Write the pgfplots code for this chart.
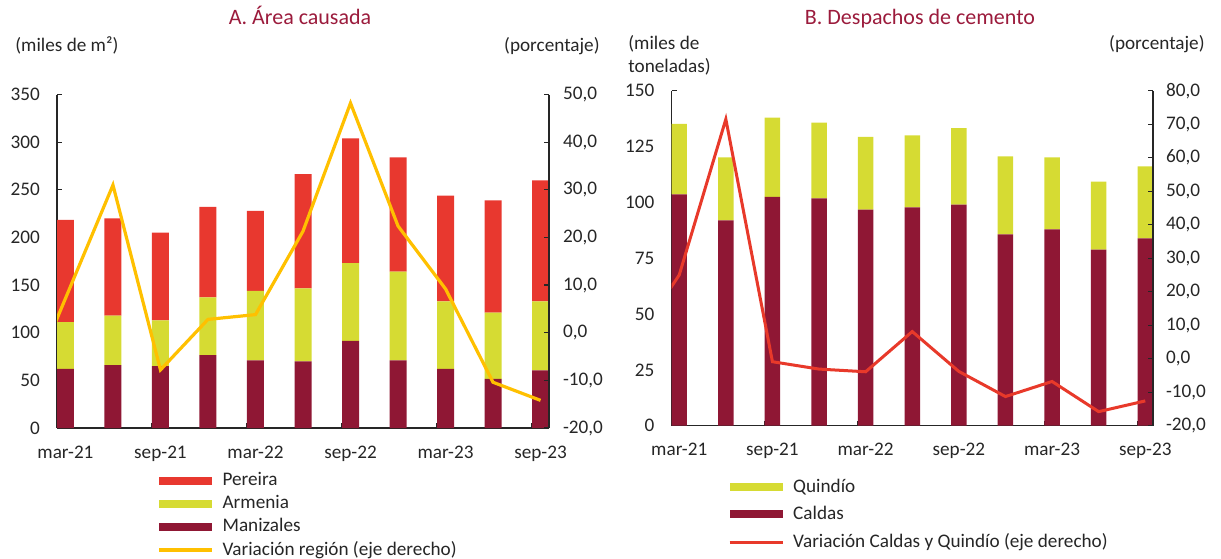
\documentclass[border=0pt]{standalone}
\usepackage{fontspec}
\setmainfont{Carlito}
\usepackage{pgfplots}
\pgfplotsset{compat=1.18}

\definecolor{pereira}{HTML}{E8382F}
\definecolor{armenia}{HTML}{D6DB33}
\definecolor{manizales}{HTML}{8F1734}
\definecolor{lineA}{HTML}{FFC000}
\definecolor{lineB}{HTML}{E8392A}
\definecolor{titlec}{HTML}{9B1B3C}
\definecolor{txt}{HTML}{262626}
\definecolor{axisc}{HTML}{262626}

\newcommand{\lab}{\fontsize{9.6}{11}\selectfont}

\pgfplotsset{
  base/.style={
    scale only axis,
    anchor=south west,
    tick align=inside,
    major tick length=2.5pt,
    minor tick length=2.5pt,
    axis line style={line width=0.6pt, draw=axisc},
    tick style={line width=0.6pt, draw=axisc},
    tick label style={font=\lab, text=txt},
    /pgf/number format/assume math mode=true,
    clip=true,
  },
  pct/.style={
    yticklabel style={/pgf/number format/fixed, /pgf/number format/fixed zerofill,
      /pgf/number format/precision=1, /pgf/number format/use comma},
  },
  barleg/.style={legend image code/.code={\fill[##1, draw=none] (0pt,-2pt) rectangle (26.5pt,2pt);}},
  lineleg/.style={legend image code/.code={\draw[##1] (0pt,0pt) -- (26.5pt,0pt);}},
}

\begin{document}
\begin{tikzpicture}
\path[use as bounding box] (0pt,0pt) rectangle (610.5pt,279pt);

% titles and unit labels
\node[anchor=base, inner sep=0pt, font=\fontsize{11}{13}\selectfont, text=titlec] at (150pt,266.5pt) {A. Área causada};
\node[anchor=base, inner sep=0pt, font=\fontsize{11}{13}\selectfont, text=titlec] at (460pt,266.5pt) {B. Despachos de cemento};
\node[anchor=base west, inner sep=0pt, font=\lab, text=txt] at (7.5pt,253pt) {(miles de m²)};
\node[anchor=base east, inner sep=0pt, font=\lab, text=txt] at (300pt,253pt) {(porcentaje)};
\node[anchor=base west, inner sep=0pt, font=\lab, text=txt] at (314pt,254pt) {(miles de};
\node[anchor=base west, inner sep=0pt, font=\lab, text=txt] at (314pt,242.5pt) {toneladas)};
\node[anchor=base east, inner sep=0pt, font=\lab, text=txt] at (602.5pt,254pt) {(porcentaje)};

% ---------------- Panel A: bars
\begin{axis}[base,
  at={(28.5pt,65pt)}, width=246pt, height=166.75pt,
  axis x line*=bottom, axis y line*=left,
  xmin=-0.178, xmax=10.178,
  ymin=0, ymax=350, ytick={0,50,...,350},
  ybar stacked, bar width=8.5pt,
  xtick={0,2,4,6,8,10},
  xticklabels={mar-21,sep-21,mar-22,sep-22,mar-23,sep-23},
  major x tick style={opacity=0},
  minor xtick={1.822,3.822,5.822,7.822,9.822},
  xticklabel style={yshift=-5.3pt},
  yticklabel style={xshift=-5pt},
]
% Manizales
\addplot[fill=manizales, draw=none] coordinates {
  (0,62)(1,66)(2,65)(3,76.5)(4,71)(5,70)(6,91.5)(7,71)(8,62)(9,51.5)(10,60.5)};
% Armenia
\addplot[fill=armenia, draw=none] coordinates {
  (0,49)(1,52)(2,48)(3,60.5)(4,73)(5,76.5)(6,81.5)(7,93)(8,71)(9,69.5)(10,72.5)};
% Pereira
\addplot[fill=pereira, draw=none] coordinates {
  (0,107.5)(1,102)(2,92)(3,95)(4,84)(5,120)(6,131)(7,120)(8,111)(9,118)(10,127)};
\end{axis}

% ---------------- Panel A: line (right axis)
\begin{axis}[base, pct,
  at={(28.5pt,65pt)}, width=246pt, height=166.75pt,
  axis x line=none, axis y line*=right,
  xmin=-0.178, xmax=10.178,
  ymin=-20, ymax=50, ytick={-20,-10,...,50},
  yticklabel style={xshift=3.5pt},
  legend cell align=left,
  legend style={at={(0.2033,-0.1200)}, anchor=north west, draw=none, fill=none,
    inner sep=0pt, row sep=-0.6pt, column sep=2.5pt, font=\lab, text=txt},
]
\addlegendimage{barleg, fill=pereira}
\addlegendentry{Pereira}
\addlegendimage{barleg, fill=armenia}
\addlegendentry{Armenia}
\addlegendimage{barleg, fill=manizales}
\addlegendentry{Manizales}
\addplot[lineleg, draw=lineA, line width=1.6pt] coordinates {
  (-1,-16.7)(0,7.2)(1,31.0)(2,-7.8)(3,2.8)(4,3.8)(5,21.3)(6,48.2)(7,22.4)(8,9.2)(9,-10.4)(10,-14.2)};
\addlegendentry{Variación región (eje derecho)}
\end{axis}

% ---------------- Panel B: bars
\begin{axis}[base,
  at={(335.75pt,66.15pt)}, width=240.75pt, height=167.5pt,
  axis x line*=bottom, axis y line*=left,
  xmin=-0.166, xmax=10.166,
  ymin=0, ymax=150, ytick={0,25,...,150},
  ybar stacked, bar width=7.75pt,
  xtick={0,2,4,6,8,10},
  xticklabels={mar-21,sep-21,mar-22,sep-22,mar-23,sep-23},
  major x tick style={opacity=0},
  minor xtick={1.834,3.834,5.834,7.834,9.834},
  xticklabel style={yshift=-5.3pt},
  yticklabel style={xshift=-5pt},
]
% Caldas
\addplot[fill=manizales, draw=none] coordinates {
  (0,103.6)(1,91.9)(2,102.5)(3,101.8)(4,96.7)(5,97.8)(6,99)(7,85.7)(8,87.9)(9,78.8)(10,83.9)};
% Quindio
\addplot[fill=armenia, draw=none] coordinates {
  (0,31.5)(1,28.2)(2,35.4)(3,33.9)(4,32.6)(5,32.2)(6,34.3)(7,34.9)(8,32.2)(9,30.5)(10,32.2)};
\end{axis}

% ---------------- Panel B: line (right axis)
\begin{axis}[base, pct,
  at={(335.75pt,66.15pt)}, width=240.75pt, height=167.5pt,
  axis x line=none, axis y line*=right,
  xmin=-0.166, xmax=10.166,
  ymin=-20, ymax=80, ytick={-20,-10,...,80},
  yticklabel style={xshift=3pt},
  legend cell align=left,
  legend style={at={(0.117,-0.1456)}, anchor=north west, draw=none, fill=none,
    inner sep=0pt, row sep=1.5pt, column sep=2.5pt, font=\lab, text=txt},
]
\addlegendimage{barleg, fill=armenia}
\addlegendentry{Quindío}
\addlegendimage{barleg, fill=manizales}
\addlegendentry{Caldas}
\addplot[lineleg, draw=lineB, line width=1.5pt] coordinates {
  (-1,4)(0,25)(1,71.5)(2,-0.9)(3,-3.1)(4,-3.9)(5,8.1)(6,-3.8)(7,-11.3)(8,-6.8)(9,-15.8)(10,-12.6)};
\addlegendentry{Variación Caldas y Quindío (eje derecho)}
\end{axis}
\end{tikzpicture}
\end{document}
